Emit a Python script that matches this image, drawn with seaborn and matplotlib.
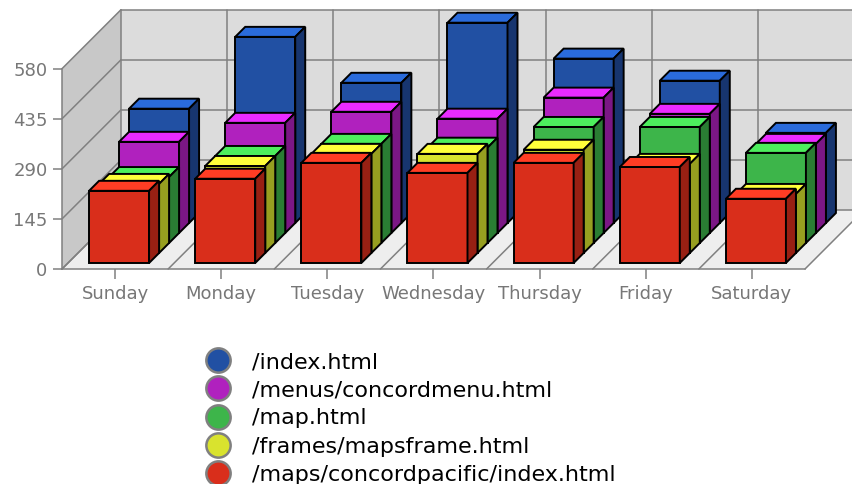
import pandas as pd
import matplotlib
matplotlib.use("Agg")
import matplotlib.pyplot as plt
from matplotlib.lines import Line2D
from matplotlib.patches import Polygon
from matplotlib.transforms import Affine2D, IdentityTransform
import seaborn as sns

days = ["Sunday", "Monday", "Tuesday", "Wednesday", "Thursday", "Friday", "Saturday"]
y_ticks = [0, 145, 290, 435, 580]

# front row first, same as the bars go back to front
pages = ["/maps/concordpacific/index.html", "/frames/mapsframe.html", "/map.html",
         "/menus/concordmenu.html", "/index.html"]
maps_hits = [209, 244, 290, 261, 290, 278, 186]
frames_hits = [200, 252, 287, 287, 299, 258, 171]
map_hits = [191, 252, 287, 276, 336, 336, 261]
menus_hits = [264, 319, 351, 331, 392, 345, 258]
index_hits = [331, 539, 406, 580, 476, 412, 261]
hits = [maps_hits, frames_hits, map_hits, menus_hits, index_hits]

front_cols = ["#D92E1B", "#D9E32E", "#3DB54A", "#B021BE", "#2150A3"]
top_cols = ["#FF3D24", "#FFFF3A", "#4DEE5D", "#EA2BFF", "#2A6BDB"]
side_cols = ["#982013", "#979F20", "#2A7D33", "#7B1785", "#17356F"]

GREY = "#808080"
DEPTH = 59      # px from front plane to back wall
STEP = 10       # px each row is pushed back
BAR_DX = 4
BAR_DY = 6

sns.set_style("white")
plt.rcParams["font.family"] = ["DejaVu Sans"]

fig = plt.figure(figsize=(8.53, 4.84), dpi=100)
ax = fig.add_axes([62 / 853, (484 - 269) / 484, 743 / 853, 200.3 / 484])
ax.patch.set_alpha(0)

for s in range(4, -1, -1):
    df = pd.DataFrame({"day": days, "hits": hits[s]})
    sns.barplot(data=df, x="day", y="hits", order=days, color=front_cols[s], saturation=1,
                width=60 / 106.14, edgecolor="black", linewidth=1.4, ax=ax)

ax.set_xlim(-0.5, 6.5)
ax.set_ylim(0, 580)
ax.set_xlabel("")
ax.set_ylabel("")
ax.set_yticks(y_ticks)


def px(x, y, dx=0, dy=0):
    p = ax.transData.transform((x, y))
    return (p[0] + dx, p[1] + dy)


def poly(points, col, z, edge="black", lw=1.4):
    ax.add_patch(Polygon(points, closed=True, facecolor=col, edgecolor=edge, linewidth=lw,
                         joinstyle="miter", transform=IdentityTransform(), clip_on=False, zorder=z))


def line(p, q, z=1):
    ax.add_line(Line2D([p[0], q[0]], [p[1], q[1]], color=GREY, lw=1.1,
                       transform=IdentityTransform(), clip_on=False, zorder=z))


# walls and floor
x0, x1 = -0.5, 6.5
top = y_ticks[-1]
poly([px(x0, 0, DEPTH, DEPTH), px(x1, 0, DEPTH, DEPTH), px(x1, top, DEPTH, DEPTH), px(x0, top, DEPTH, DEPTH)],
     "#DCDCDC", 0, edge="none")
poly([px(x0, 0), px(x0, 0, DEPTH, DEPTH), px(x0, top, DEPTH, DEPTH), px(x0, top)], "#C8C8C8", 0, edge="none")
poly([px(x0, 0), px(x1, 0), px(x1, 0, DEPTH, DEPTH), px(x0, 0, DEPTH, DEPTH)], "#EEEEEE", 0, edge="none")

for v in y_ticks:
    line(px(x0, v), px(x0, v, DEPTH, DEPTH))
    line(px(x0, v, DEPTH, DEPTH), px(x1, v, DEPTH, DEPTH))
for i in range(len(days) + 1):
    line(px(x0 + i, 0), px(x0 + i, 0, DEPTH, DEPTH))
    line(px(x0 + i, 0, DEPTH, DEPTH), px(x0 + i, top, DEPTH, DEPTH))

# the barplot only draws the fronts, add tops and sides and push each row back
for c, s in zip(ax.containers, range(4, -1, -1)):
    dx = BAR_DX + STEP * s
    dy = BAR_DY + STEP * s
    z = 3 + (4 - s)
    shift = ax.transData + Affine2D().translate(dx, dy)
    for bar in c:
        l, r, h = bar.get_x(), bar.get_x() + bar.get_width(), bar.get_height()
        bar.set_transform(shift)
        bar.set_clip_on(False)
        bar.set_zorder(z)
        poly([px(l, h, dx, dy), px(r, h, dx, dy), px(r, h, dx + STEP, dy + STEP), px(l, h, dx + STEP, dy + STEP)],
             top_cols[s], z)
        poly([px(r, 0, dx, dy), px(r, h, dx, dy), px(r, h, dx + STEP, dy + STEP), px(r, 0, dx + STEP, dy + STEP)],
             side_cols[s], z)

sns.despine(ax=ax)
for side in ["left", "bottom"]:
    ax.spines[side].set_color(GREY)
    ax.spines[side].set_linewidth(1.1)
    ax.spines[side].set_zorder(2)
ax.tick_params(axis="x", length=7.5, width=1.1, color=GREY, labelcolor="#777777", labelsize=13, pad=4, bottom=True)
ax.tick_params(axis="y", length=6.5, width=1.1, color=GREY, labelcolor="#777777", labelsize=13, pad=4, left=True)

handles = [Line2D([], [], linestyle="none", marker="o", markersize=17.5, markerfacecolor=front_cols[s],
                  markeredgecolor=GREY, markeredgewidth=1.8, label=pages[s]) for s in range(4, -1, -1)]
fig.legend(handles=handles, loc="upper left", bbox_to_anchor=(196 / 853, 1 - 352 / 484), frameon=False,
           fontsize=16, labelspacing=0.37, handletextpad=0.52, labelcolor="black", borderpad=0, borderaxespad=0)

fig.savefig("out.png", dpi=100)
